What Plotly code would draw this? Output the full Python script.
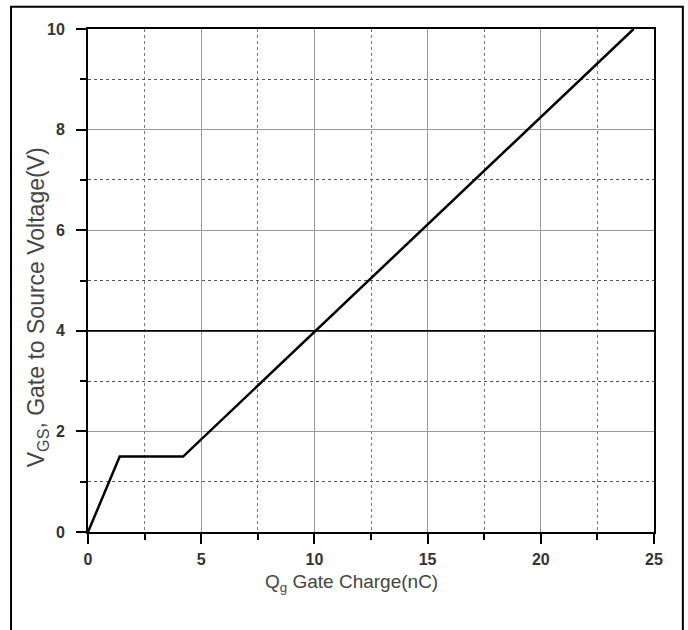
import plotly.graph_objects as go

charge_nc = [0, 1.4, 4.2, 24.1]
vgs_v = [0, 1.5, 1.5, 10]
x_ticks = [0, 5, 10, 15, 20, 25]
y_ticks = [0, 2, 4, 6, 8, 10]
emphasized_y_grid = [4]

fig = go.Figure()
for yv in emphasized_y_grid:
    fig.add_shape(type="line", xref="paper", yref="y", x0=0, x1=1, y0=yv, y1=yv,
                  line=dict(color="black", width=1.8), layer="above")
fig.add_trace(go.Scatter(x=charge_nc, y=vgs_v, mode="lines",
                         line=dict(color="black", width=2.5), showlegend=False))

font_tick = dict(family="Liberation Sans Narrow, Liberation Sans, Arial", size=16,
                 color="#333", weight="bold")
fig.update_xaxes(range=[0, 25], tickvals=x_ticks, ticks="outside", ticklen=10, tickwidth=2,
                 tickcolor="black", showline=True, linecolor="black", linewidth=2, mirror=True,
                 showgrid=True, gridcolor="#999", gridwidth=1,
                 minor=dict(dtick=2.5, ticks="outside", ticklen=6, tickcolor="black",
                            showgrid=True, gridcolor="#777", griddash="dot"),
                 tickfont=font_tick, zeroline=False, ticklabelstandoff=2)
fig.update_yaxes(range=[0, 10], tickvals=y_ticks, ticks="outside", ticklen=10, tickwidth=2,
                 tickcolor="black", showline=True, linecolor="black", linewidth=2, mirror=True,
                 showgrid=True, gridcolor="#999", gridwidth=1,
                 minor=dict(dtick=1, ticks="outside", ticklen=6, tickcolor="black",
                            showgrid=True, gridcolor="#555", griddash="dot"),
                 tickfont=font_tick, zeroline=False, ticklabelstandoff=8)

title_font = dict(family="Liberation Sans, Arial", color="#444")
fig.add_annotation(text="Q<sub>g</sub> Gate Charge(nC)", xref="paper", yref="paper",
                   x=0.466, y=-0.101, showarrow=False, xanchor="center", yanchor="middle",
                   font=dict(size=19, **title_font))
fig.add_annotation(text="V<sub>GS</sub>, Gate to Source Voltage(V)", xref="paper", yref="paper",
                   x=-0.09, y=0.447, showarrow=False, xanchor="center", yanchor="middle",
                   textangle=-90, font=dict(size=23, **title_font))

fig.add_shape(type="rect", xref="paper", yref="paper", x0=-0.136, x1=1.051, y0=-0.25, y1=1.044,
              line=dict(color="black", width=2), layer="below")

fig.update_layout(width=688, height=630, margin=dict(l=88, r=34, t=29, b=98),
                  plot_bgcolor="white", paper_bgcolor="white")
fig.write_html("out.html")
